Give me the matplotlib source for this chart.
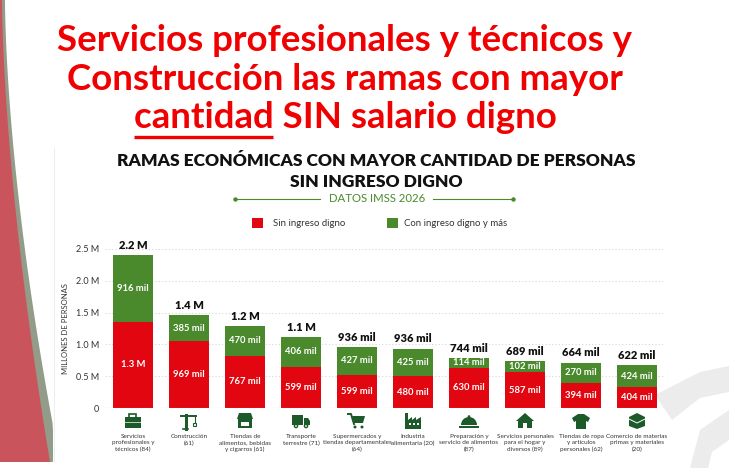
import matplotlib
matplotlib.use("Agg")
import matplotlib.pyplot as plt
import numpy as np
from matplotlib.patches import Polygon, Rectangle, Circle, Wedge

plt.rcParams['font.family'] = ['Lato', 'DejaVu Sans']

# ramas economicas (in order shown)
categories = [
    "Servicios\nprofesionales y\ntécnicos (84)",
    "Construcción\n(61)",
    "Tiendas de\nalimentos, bebidas\ny cigarros (61)",
    "Transporte\nterrestre (71)",
    "Supermercados y\ntiendas departamentales\n(64)",
    "Industria\nalimentaria (20)",
    "Preparación y\nservicio de alimentos\n(87)",
    "Servicios personales\npara el hogar y\ndiversos (89)",
    "Tiendas de ropa\ny artículos\npersonales (62)",
    "Comercio de materias\nprimas y materiales\n(20)",
]
# bar segment heights as drawn (millions of people)
sin_digno = [1.36, 1.05, 0.82, 0.645, 0.525, 0.50, 0.63, 0.566, 0.393, 0.33]
con_digno = [1.04, 0.41, 0.47, 0.475, 0.435, 0.435, 0.16, 0.174, 0.321, 0.341]
# printed labels
sin_labels = ["1.3 M", "969 mil", "767 mil", "599 mil", "599 mil", "480 mil",
              "630 mil", "587 mil", "394 mil", "404 mil"]
con_labels = ["916 mil", "385 mil", "470 mil", "406 mil", "427 mil", "425 mil",
              "114 mil", "102 mil", "270 mil", "424 mil"]
total_labels = ["2.2 M", "1.4 M", "1.2 M", "1.1 M", "936 mil", "936 mil",
                "744 mil", "689 mil", "664 mil", "622 mil"]
yticks = [0, 0.5, 1.0, 1.5, 2.0, 2.5]
ytick_labels = ["0", "0.5 M", "1.0 M", "1.5 M", "2.0 M", "2.5 M"]

RED = "#e1060f"
GREEN = "#4a8a2c"
ICON = "#1c5a2a"
W, H = 729, 468

fig = plt.figure(figsize=(W / 100, H / 100), dpi=100)
fig.patch.set_facecolor("white")

# background layer in pixel coords
bg = fig.add_axes([0, 0, 1, 1])
bg.set_xlim(0, W)
bg.set_ylim(H, 0)
bg.axis("off")

# left decorative swoosh
yy = np.linspace(0, 462, 60)
red_edge = 2 + 48 * (yy / 462) ** 1.6
gray_edge = red_edge + 3 + 7 * (yy / 462) ** 2
gray_edge = np.minimum(gray_edge, 53)
bg.add_patch(Polygon(np.column_stack([np.r_[0, gray_edge, 0], np.r_[0, yy, 462]]),
                     closed=True, color="#939c89", lw=0))
bg.add_patch(Polygon(np.column_stack([np.r_[0, red_edge, 0], np.r_[0, yy, 462]]),
                     closed=True, color="#c9545c", lw=0))
bg.plot([54, 54], [148, 462], color="#eeeeee", lw=0.8)

# faint watermark bottom right
bg.add_patch(Polygon([(655, 395), (700, 372), (729, 366), (729, 392), (700, 398), (672, 420)],
                     closed=True, color="#ececec", lw=0))
bg.add_patch(Polygon([(690, 468), (700, 430), (729, 410), (729, 440), (712, 452), (708, 468)],
                     closed=True, color="#ececec", lw=0))

# main slide title, sized so the first line spans ~575 px
title_kw = dict(ha="center", va="baseline", color="#f00000", fontsize=24, fontweight="bold")
fig.canvas.draw()
r = fig.canvas.get_renderer()
probe = bg.text(0, 0, "Servicios profesionales y técnicos y", **title_kw)
title_kw["fontsize"] = 24 * 575 / probe.get_window_extent(r).width
probe.remove()

bg.text(345, 51, "Servicios profesionales y técnicos y", **title_kw)
bg.text(345, 90, "Construcción las ramas con mayor", **title_kw)
t3 = bg.text(345, 128, "cantidad SIN salario digno", **title_kw)
full_w = t3.get_window_extent(r).width
tmp = bg.text(0, 0, "cantidad", **title_kw)
cw = tmp.get_window_extent(r).width
tmp.remove()
x0 = 345 - full_w / 2
bg.plot([x0, x0 + cw], [137, 137], color="#f00000", lw=2.4, solid_capstyle="butt")

# chart headings
head_kw = dict(ha="center", va="center", color="#111111", fontsize=12.5, fontweight="heavy")
bg.text(376, 161, "RAMAS ECONÓMICAS CON MAYOR CANTIDAD DE PERSONAS", **head_kw)
bg.text(376, 182, "SIN INGRESO DIGNO", **head_kw)
bg.text(377, 199, "DATOS IMSS 2026", ha="center", va="center", color=GREEN, fontsize=8.2)
bg.plot([235, 320], [199, 199], color=GREEN, lw=0.8)
bg.plot([433, 513], [199, 199], color=GREEN, lw=0.8)
bg.plot([235, 513], [199, 199], ls="none", marker="o", ms=2.2, color=GREEN)

# legend
bg.add_patch(Rectangle((252, 218), 11, 10, color=RED, lw=0))
bg.text(273, 223, "Sin ingreso digno", va="center", fontsize=6.9, color="#333333")
bg.add_patch(Rectangle((387, 218), 11, 10, color=GREEN, lw=0))
bg.text(404, 223, "Con ingreso digno y más", va="center", fontsize=6.9, color="#333333")

# chart axes: x from 105 to 665 px, y 0 at 408 px, 2.5 at 249 px
ax = fig.add_axes([105 / W, (H - 408) / H, 560 / W, 159 / H])
ax.set_facecolor("none")
x = np.arange(len(categories))
ax.bar(x, sin_digno, width=0.714, color=RED, zorder=2)
ax.bar(x, con_digno, width=0.714, bottom=sin_digno, color=GREEN, zorder=2)
ax.set_xlim(-0.5, len(categories) - 0.5)
ax.set_ylim(0, 2.5)
ax.set_yticks(yticks)
ax.set_yticklabels(ytick_labels, fontsize=6.5, color="#333333")
ax.set_xticks([])
ax.tick_params(axis="y", length=0, pad=4)
for s in ax.spines.values():
    s.set_visible(False)
for t in yticks[1:]:
    ax.axhline(t, color="#d6d6d6", lw=0.8, ls=(0, (1, 2)), zorder=0)
ax.axhline(0, color="#bbbbbb", lw=0.8, zorder=3)
ax.set_ylabel("MILLONES DE PERSONAS", fontsize=5.5, color="#333333", labelpad=5)

for i in x:
    s, c = sin_digno[i], con_digno[i]
    ax.text(i, s / 2, sin_labels[i], ha="center", va="center", color="white",
            fontsize=6.8, fontweight="bold", zorder=4)
    ax.text(i, s + c / 2, con_labels[i], ha="center", va="center", color="white",
            fontsize=6.8, fontweight="bold", zorder=4)
    ax.annotate(total_labels[i], (i, s + c), xytext=(0, 3), textcoords="offset points",
                ha="center", va="bottom", fontsize=8, fontweight="heavy",
                color="#111111", annotation_clip=False)


# icons below each bar
def icon(k, cx, cy):
    P = lambda pts: bg.add_patch(Polygon([(cx + a, cy + b) for a, b in pts],
                                         closed=True, color=ICON, lw=0))
    if k == 0:  # briefcase
        bg.add_patch(Rectangle((cx - 8, cy - 4), 16, 11, color=ICON, lw=0))
        bg.add_patch(Rectangle((cx - 3.5, cy - 7), 7, 3.5, fill=False, ec=ICON, lw=1.2))
        bg.plot([cx - 8, cx + 8], [cy + 1, cy + 1], color="white", lw=0.5)
    elif k == 1:  # crane
        bg.plot([cx - 3, cx - 3], [cy - 6, cy + 8], color=ICON, lw=2.2)
        bg.plot([cx - 8, cx + 7], [cy - 5, cy - 5], color=ICON, lw=1.4)
        bg.plot([cx + 6, cx + 6], [cy - 5, cy + 2], color=ICON, lw=0.8)
        bg.add_patch(Rectangle((cx + 4.5, cy + 2), 3, 3, fill=False, ec=ICON, lw=0.8))
        bg.plot([cx - 6, cx - 0.5], [cy + 8, cy + 8], color=ICON, lw=1.2)
    elif k == 2:  # store
        bg.add_patch(Rectangle((cx - 7, cy - 2), 14, 9, color=ICON, lw=0))
        P([(-8, -2), (-6, -8), (6, -8), (8, -2)])
        bg.add_patch(Rectangle((cx - 4, cy + 1), 8, 4, color="white", lw=0))
    elif k == 3:  # truck
        bg.add_patch(Rectangle((cx - 9, cy - 6), 11, 10, color=ICON, lw=0))
        P([(3, -3), (7, -3), (9, 0), (9, 4), (3, 4)])
        for dx in (-5, 5):
            bg.add_patch(Circle((cx + dx, cy + 5), 2.3, color=ICON, lw=0))
            bg.add_patch(Circle((cx + dx, cy + 5), 0.9, color="white", lw=0))
    elif k == 4:  # cart
        bg.plot([cx - 9, cx - 6, cx - 3], [cy - 7, cy - 7, cy + 3], color=ICON, lw=1.4)
        P([(-5, -5), (8, -5), (6, 2), (-3, 2)])
        for dx in (-2, 5):
            bg.add_patch(Circle((cx + dx, cy + 6), 1.5, color=ICON, lw=0))
    elif k == 5:  # factory
        P([(-8, 8), (-8, -8), (-5, -8), (-5, -1), (-1, -4), (-1, -1), (3, -4), (3, -1),
           (8, -4), (8, 8)])
        for dx in (-3, 1, 5):
            bg.add_patch(Rectangle((cx + dx - 1, cy + 2), 2, 2, color="white", lw=0))
    elif k == 6:  # cloche
        bg.add_patch(Wedge((cx, cy + 4), 8, 180, 360, color=ICON, lw=0))
        bg.add_patch(Rectangle((cx - 10, cy + 4.5), 20, 2.2, color=ICON, lw=0))
        bg.add_patch(Circle((cx, cy - 4.5), 1.3, color=ICON, lw=0))
    elif k == 7:  # house
        P([(-9, 0), (0, -8), (9, 0), (7, 0), (7, 7), (2, 7), (2, 2), (-2, 2), (-2, 7),
           (-7, 7), (-7, 0)])
    elif k == 8:  # t-shirt
        P([(-3, -7), (3, -7), (9, -3), (7, 1), (5, 0), (5, 8), (-5, 8), (-5, 0), (-7, 1),
           (-9, -3)])
    else:  # box
        P([(-8, -4), (0, -8), (8, -4), (8, 5), (0, 8), (-8, 5)])
        bg.plot([cx - 8, cx, cx + 8], [cy - 2, cy + 2, cy - 2], color="white", lw=0.7)


for i in x:
    px, py = ax.transData.transform((i, 0))
    cx = px * 100 / fig.dpi
    icon(i, cx, 421)
    bg.text(cx, 434, categories[i], ha="center", va="top", fontsize=4.6,
            color="#333333", linespacing=1.35)

fig.savefig("out.png", dpi=100)
